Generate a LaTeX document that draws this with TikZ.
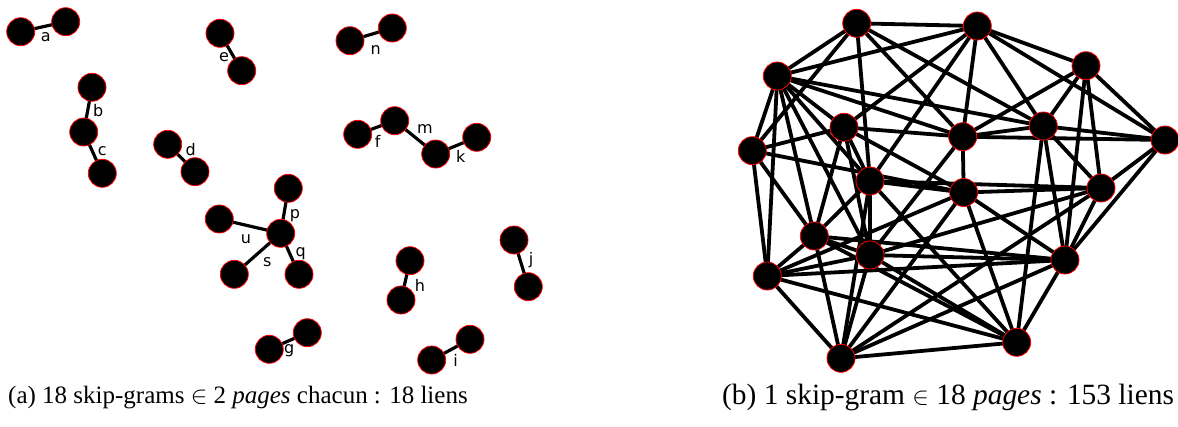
\documentclass[tikz,border=0pt]{standalone}
\usepackage{fontspec}
\setmainfont{Liberation Serif}
\newfontfamily\lab{DejaVu Sans}
\pgfdeclarelayer{bg}
\pgfsetlayers{bg,main}
\begin{document}
\begin{tikzpicture}[x=1pt,y=-1pt,
 vtx/.style={circle,fill=black,draw=red,line width=0.8pt,minimum size=28pt,inner sep=0pt},
 edg/.style={line width=3.2pt,black},
 redg/.style={line width=3.8pt,black},
 lbl/.style={font=\lab\fontsize{16}{16}\selectfont,anchor=base,inner sep=0pt,text=black},
 captxt/.style={anchor=base west,inner sep=0pt}]
\useasboundingbox (0,0) rectangle (1178,426);
% ---------- left panel: nodes ----------
\foreach \n/\x/\y in {a1/20.7/31.7,a2/65.7/21.7,e1/220/33.3,e2/241.7/70.7,b1/92/87.3,b2/83.7/132,c2/102.3/173.3,d1/167.7/144.3,d2/195/171.7,n1/350/40.7,n2/392.3/28,f1/357.7/134.3,m1/394.7/120.7,k1/435.7/154,k2/476.7/137.3,pc/280.7/233.3,p1/288.3/188.3,u1/219.3/219,s1/234.3/274.3,q1/299/274.3,g1/269.3/349.3,g2/307.3/332.7,h1/410/260.7,h2/401/300,j1/514/240,j2/528.3/286.7,i1/470/339.3,i2/431.7/360}
  \node[vtx] (\n) at (\x,\y) {};
% ---------- left panel: edges ----------
\begin{pgfonlayer}{bg}
\foreach \u/\v in {a1/a2,e1/e2,b1/b2,b2/c2,d1/d2,n1/n2,f1/m1,m1/k1,k1/k2,pc/p1,pc/u1,pc/s1,pc/q1,g1/g2,h1/h2,j1/j2,i1/i2}
  \draw[edg] (\u.center) -- (\v.center);
\end{pgfonlayer}
% ---------- left panel: labels ----------
\node[lbl] (la) at (45.7,41.7) {a};
\node[lbl] (le) at (224,61.7) {e};
\node[lbl] (lb) at (98.3,116.7) {b};
\node[lbl] (lc) at (102.3,155) {c};
\node[lbl] (ld) at (190.7,155.7) {d};
\node[lbl] (ln) at (375.7,54) {n};
\node[lbl] (lf) at (377.7,147.7) {f};
\node[lbl] (lm) at (425,133.3) {m};
\node[lbl] (lk) at (460.7,162.3) {k};
\node[lbl] (lp) at (295,218.3) {p};
\node[lbl] (lu) at (246,243.3) {u};
\node[lbl] (ls) at (267.3,266.7) {s};
\node[lbl] (lq) at (300.7,256.3) {q};
\node[lbl] (lg) at (289.3,353.3) {g};
\node[lbl] (lh) at (420,291.7) {h};
\node[lbl] (lj) at (531,264) {j};
\node[lbl] (li) at (455.7,366.7) {i};
% ---------- right panel ----------
\foreach \n/\x/\y in {1/856.7/23.3,2/977.3/26,3/1086/65.7,4/777.3/76,5/844/127.3,6/962.7/136.7,7/1043.3/126,8/1165/140,9/752.3/150.7,10/870/181,11/963.7/192.5,12/1101/188,13/814.3/236,14/870/255,15/1065/260,16/767.3/276,17/841/358.3,18/1016.7/342.3}
  \node[vtx] (R\n) at (\x,\y) {};
\begin{pgfonlayer}{bg}
\foreach \u/\v in {1/2,2/3,1/4,4/2,1/9,1/10,1/6,1/7,3/8,7/8,7/12,8/12,8/15,3/7,3/12,3/15,3/6,2/8,2/7,2/6,2/5,2/10,4/9,4/5,4/6,4/7,4/16,4/13,4/14,4/10,9/5,9/16,9/13,9/11,5/6,5/10,5/14,5/13,5/11,6/7,6/11,6/14,6/8,10/11,10/13,10/14,10/12,10/17,10/18,11/12,11/15,11/17,11/16,11/18,12/14,12/17,13/17,14/17,16/17,17/18,18/15,15/12,16/15,13/14,13/15,14/15,16/13,16/14,16/18,18/13,18/14,18/7,15/7,15/17}
  \draw[redg] (R\u.center) -- (R\v.center);
\end{pgfonlayer}
% ---------- captions ----------
\node[captxt,font=\fontsize{25}{25}\selectfont] (capa) at (8,403) {(a) 18 skip-grams $\in$ 2 \textit{pages} chacun : 18 liens};
\node[captxt,font=\fontsize{29.4}{29.4}\selectfont] (capb) at (722,404) {(b) 1 skip-gram $\in$ 18 \textit{pages} : 153 liens};
\end{tikzpicture}
\end{document}
